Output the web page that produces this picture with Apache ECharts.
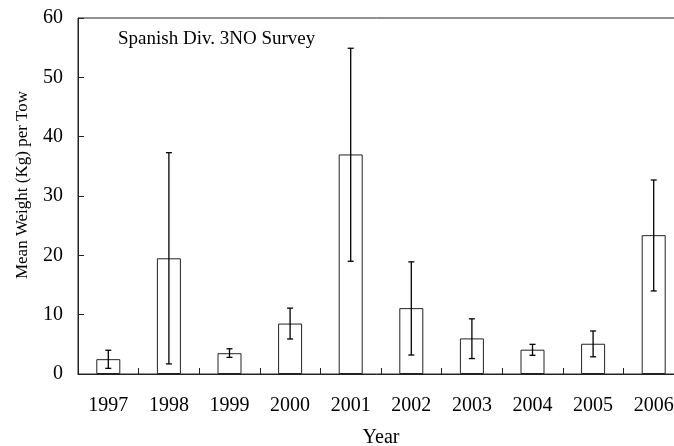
<!DOCTYPE html>
<html>
<head>
<meta charset="utf-8">
<script src="https://cdn.jsdelivr.net/npm/echarts@6/dist/echarts.min.js"></script>
<style>html,body{margin:0;padding:0;background:#fff;}#c{width:674px;height:446px;}</style>
</head>
<body>
<div id="c"></div>
<script>
const years = ['1997','1998','1999','2000','2001','2002','2003','2004','2005','2006'];
const meanWeight = [2.5, 19.5, 3.5, 8.5, 37.0, 11.1, 6.0, 4.1, 5.1, 23.4];
const errLower = [0.95, 1.7, 2.8, 5.9, 19.0, 3.2, 2.6, 3.15, 2.9, 14.0];
const errUpper = [4.0, 37.3, 4.25, 11.1, 54.9, 18.9, 9.3, 5.0, 7.25, 32.7];
const yTicks = [0, 10, 20, 30, 40, 50, 60];

const font = 'Liberation Serif';
const chart = echarts.init(document.getElementById('c'), null, {renderer: 'canvas'});
const errData = years.map((y, i) => [i, errLower[i], errUpper[i]]);

chart.setOption({
  animation: false,
  backgroundColor: '#fff',
  textStyle: {fontFamily: font, color: '#000'},
  graphic: [
    {
      type: 'text', left: 118, top: 30,
      style: {text: 'Spanish Div. 3NO Survey', font: '19px "Liberation Serif"', fill: '#000'}
    },
    {
      type: 'text', x: 23, y: 185, rotation: Math.PI / 2,
      style: {text: 'Mean Weight (Kg) per Tow', font: '17px "Liberation Serif"', fill: '#000', align: 'center', verticalAlign: 'middle'}
    }
  ],
  grid: {left: 78, top: 18, width: 606, height: 356, outerBoundsMode: 'none', containLabel: false,
         show: true, borderColor: '#222', borderWidth: 1, backgroundColor: 'transparent'},
  xAxis: {
    type: 'category', data: years,
    name: 'Year', nameLocation: 'middle', nameGap: 54,
    nameTextStyle: {fontFamily: font, fontSize: 20, color: '#000'},
    axisLine: {lineStyle: {color: '#222', width: 1}},
    axisTick: {show: true, inside: true, length: 6, alignWithLabel: false, lineStyle: {color: '#222'}},
    axisLabel: {fontFamily: font, fontSize: 20, color: '#000', margin: 22},
    splitLine: {show: false}
  },
  yAxis: {
    type: 'value', min: yTicks[0], max: yTicks[yTicks.length - 1], interval: 10,
    axisLine: {show: true, lineStyle: {color: '#222', width: 1}},
    axisTick: {show: true, inside: true, length: 6, lineStyle: {color: '#222'}},
    axisLabel: {fontFamily: font, fontSize: 20, color: '#000', margin: 15},
    splitLine: {show: false}
  },
  series: [
    {
      type: 'bar', data: meanWeight, barWidth: 24,
      itemStyle: {color: '#fff', borderColor: '#222', borderWidth: 1}
    },
    {
      type: 'custom', data: errData, z: 5,
      renderItem: function (params, api) {
        const x = api.value(0);
        const lo = api.coord([x, api.value(1)]);
        const hi = api.coord([x, api.value(2)]);
        const cap = 3;
        const st = {stroke: '#000', lineWidth: 1.3};
        return {type: 'group', children: [
          {type: 'line', shape: {x1: hi[0], y1: hi[1], x2: lo[0], y2: lo[1]}, style: st},
          {type: 'line', shape: {x1: hi[0] - cap, y1: hi[1], x2: hi[0] + cap, y2: hi[1]}, style: st},
          {type: 'line', shape: {x1: lo[0] - cap, y1: lo[1], x2: lo[0] + cap, y2: lo[1]}, style: st}
        ]};
      }
    }
  ]
});
</script>
</body>
</html>
